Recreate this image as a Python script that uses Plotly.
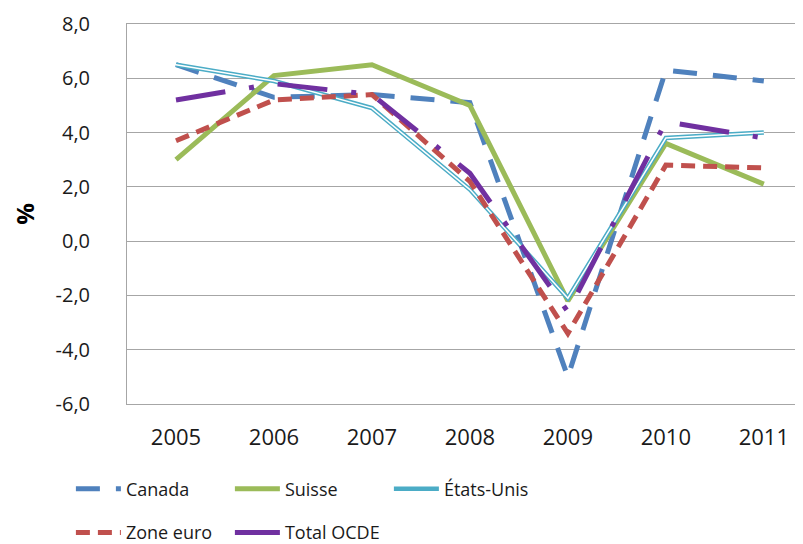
import plotly.graph_objects as go

years = ["2005", "2006", "2007", "2008", "2009", "2010", "2011"]

canada = [6.5, 5.3, 5.4, 5.1, -5.0, 6.3, 5.9]
suisse = [3.0, 6.1, 6.5, 5.0, -2.2, 3.6, 2.1]
etats_unis = [6.5, 5.9, 4.9, 1.9, -2.1, 3.8, 4.0]
zone_euro = [3.7, 5.2, 5.4, 2.2, -3.4, 2.8, 2.7]
total_ocde = [5.2, 5.8, 5.4, 2.5, -2.6, 4.4, 3.8]

y_ticks = [-6, -4, -2, 0, 2, 4, 6, 8]
y_labels = ["-6,0", "-4,0", "-2,0", "0,0", "2,0", "4,0", "6,0", "8,0"]

font = "Open Sans, Noto Sans, sans-serif"

fig = go.Figure()

fig.add_trace(go.Scatter(
    x=years, y=canada, name="Canada", mode="lines", legend="legend",
    line=dict(color="#4F81BD", width=5, dash="24px,16px"),
))
fig.add_trace(go.Scatter(
    x=years, y=suisse, name="Suisse", mode="lines", legend="legend",
    line=dict(color="#9BBB59", width=5),
))
# double line for États-Unis: cyan outline with a white core
fig.add_trace(go.Scatter(
    x=years, y=etats_unis, name="États-Unis", mode="lines", legend="legend",
    line=dict(color="#4BACC6", width=4.5),
))
fig.add_trace(go.Scatter(
    x=years, y=etats_unis, mode="lines", showlegend=False, hoverinfo="skip",
    line=dict(color="white", width=1.5),
))
fig.add_trace(go.Scatter(
    x=years, y=zone_euro, name="Zone euro", mode="lines", legend="legend2",
    line=dict(color="#C0504D", width=5, dash="14px,8px"),
))
fig.add_trace(go.Scatter(
    x=years, y=total_ocde, name="Total OCDE", mode="lines", legend="legend2",
    line=dict(color="#7030A0", width=5, dash="50px,24px,5px,24px"),
))

legend_common = dict(
    orientation="h", xanchor="left", yanchor="top",
    font=dict(family=font, size=18, color="#1a1a1a"),
    entrywidth=99, entrywidthmode="pixels",
    bgcolor="rgba(0,0,0,0)", itemwidth=45,
)

# the page body adds an 8px offset, so margins are shifted to compensate
fig.update_layout(
    width=803, height=544,
    margin=dict(l=119, r=8, t=16, b=148, autoexpand=False),
    paper_bgcolor="white", plot_bgcolor="white",
    font=dict(family=font, color="#1a1a1a"),
    showlegend=True,
    legend=dict(x=-0.083, y=-0.175, **legend_common),
    legend2=dict(x=-0.083, y=-0.29, **legend_common),
)

fig.update_xaxes(
    type="category", range=[-0.5, 6.4], automargin=False,
    showgrid=False, ticks="",
    showline=True, linecolor="#A6A6A6", linewidth=1, mirror=True,
    tickfont=dict(family=font, size=22, color="#1a1a1a"),
    ticklabelstandoff=14,
)
fig.update_yaxes(
    range=[-6, 8], tickvals=y_ticks, ticktext=y_labels, automargin=False,
    showgrid=True, gridcolor="#A6A6A6", gridwidth=1,
    showline=True, linecolor="#A6A6A6", linewidth=1,
    zeroline=False, ticks="",
    tickfont=dict(family=font, size=20, color="#1a1a1a"),
    ticklabelstandoff=32,
    title=dict(text="<b>%</b>", font=dict(family=font, size=24, color="#000"), standoff=20),
)

fig.write_html("out.html")
